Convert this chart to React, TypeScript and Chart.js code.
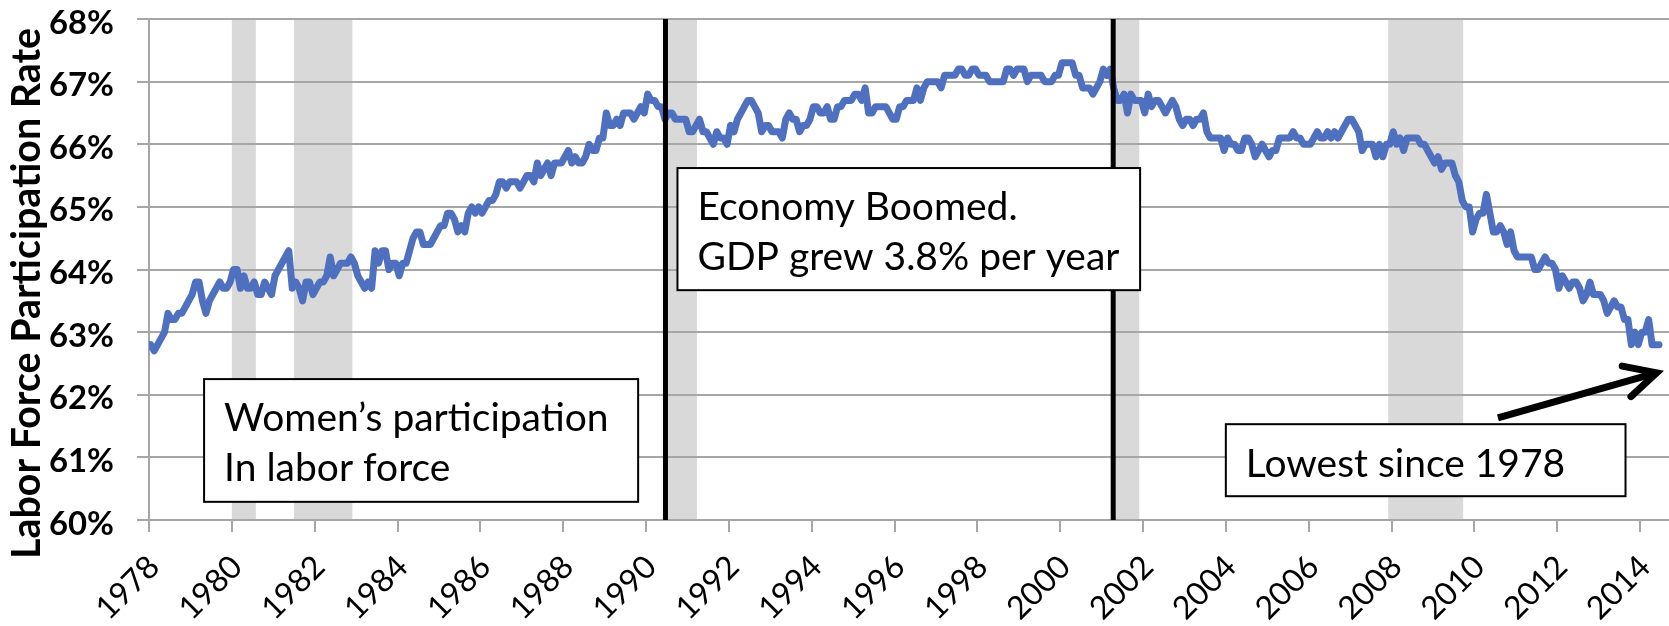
import React, { useEffect, useRef } from 'react';
import { Chart, registerables } from 'chart.js';

Chart.register(...registerables);

// ---------------- DATA ----------------
const START_YEAR = 1978;

// Civilian labor force participation rate (%), monthly
const rate1978to1989: number[] = [
  62.8, 62.7, 62.8, 62.9, 63.0, 63.3, 63.2, 63.2, 63.3, 63.3, 63.4, 63.5, // 1978
  63.6, 63.8, 63.8, 63.5, 63.3, 63.5, 63.6, 63.7, 63.8, 63.7, 63.7, 63.8, // 1979
  64.0, 64.0, 63.7, 63.9, 63.7, 63.7, 63.8, 63.6, 63.6, 63.8, 63.7, 63.6, // 1980
  63.9, 64.0, 64.1, 64.2, 64.3, 63.7, 63.8, 63.7, 63.5, 63.8, 63.8, 63.6, // 1981
  63.7, 63.8, 63.8, 63.9, 64.2, 63.9, 64.0, 64.1, 64.1, 64.1, 64.2, 64.1, // 1982
  63.9, 63.8, 63.7, 63.8, 63.7, 64.3, 64.1, 64.3, 64.3, 64.0, 64.1, 64.1, // 1983
  63.9, 64.1, 64.1, 64.3, 64.5, 64.6, 64.6, 64.4, 64.4, 64.4, 64.5, 64.6, // 1984
  64.7, 64.7, 64.9, 64.9, 64.8, 64.6, 64.7, 64.6, 64.9, 65.0, 64.9, 65.0, // 1985
  64.9, 65.0, 65.1, 65.1, 65.2, 65.4, 65.4, 65.3, 65.4, 65.4, 65.4, 65.3, // 1986
  65.4, 65.5, 65.5, 65.4, 65.7, 65.5, 65.6, 65.7, 65.5, 65.7, 65.7, 65.7, // 1987
  65.8, 65.9, 65.7, 65.8, 65.7, 65.7, 65.8, 66.0, 65.9, 65.9, 66.1, 66.1, // 1988
  66.5, 66.3, 66.3, 66.4, 66.3, 66.5, 66.5, 66.5, 66.4, 66.5, 66.6, 66.5, // 1989
];

const rate1990to1999: number[] = [
  66.8, 66.7, 66.7, 66.6, 66.6, 66.4, 66.5, 66.5, 66.4, 66.4, 66.4, 66.4, // 1990
  66.2, 66.2, 66.3, 66.4, 66.2, 66.2, 66.1, 66.0, 66.2, 66.1, 66.1, 66.0, // 1991
  66.3, 66.2, 66.4, 66.5, 66.6, 66.7, 66.7, 66.6, 66.5, 66.2, 66.3, 66.3, // 1992
  66.2, 66.2, 66.2, 66.1, 66.4, 66.5, 66.4, 66.4, 66.2, 66.3, 66.3, 66.4, // 1993
  66.6, 66.6, 66.5, 66.5, 66.6, 66.4, 66.4, 66.6, 66.6, 66.7, 66.7, 66.7, // 1994
  66.8, 66.8, 66.7, 66.9, 66.5, 66.5, 66.6, 66.6, 66.6, 66.6, 66.5, 66.4, // 1995
  66.4, 66.6, 66.6, 66.7, 66.7, 66.7, 66.9, 66.7, 66.9, 67.0, 67.0, 67.0, // 1996
  67.0, 66.9, 67.1, 67.1, 67.1, 67.1, 67.2, 67.2, 67.1, 67.1, 67.2, 67.2, // 1997
  67.1, 67.1, 67.1, 67.0, 67.0, 67.0, 67.0, 67.0, 67.2, 67.2, 67.1, 67.2, // 1998
  67.2, 67.2, 67.0, 67.1, 67.1, 67.1, 67.1, 67.0, 67.0, 67.0, 67.1, 67.1, // 1999
];

const rate2000to2014: number[] = [
  67.3, 67.3, 67.3, 67.3, 67.1, 67.1, 66.9, 66.9, 66.9, 66.8, 66.9, 67.0, // 2000
  67.2, 67.1, 67.2, 66.9, 66.7, 66.7, 66.8, 66.5, 66.8, 66.7, 66.7, 66.7, // 2001
  66.5, 66.8, 66.6, 66.7, 66.7, 66.6, 66.5, 66.6, 66.7, 66.6, 66.4, 66.3, // 2002
  66.4, 66.4, 66.3, 66.4, 66.4, 66.5, 66.2, 66.1, 66.1, 66.1, 66.1, 65.9, // 2003
  66.1, 66.0, 66.0, 65.9, 65.9, 66.1, 66.1, 66.0, 65.8, 65.9, 66.0, 65.9, // 2004
  65.8, 65.9, 65.9, 66.1, 66.1, 66.1, 66.1, 66.2, 66.1, 66.1, 66.0, 66.0, // 2005
  66.0, 66.1, 66.2, 66.1, 66.1, 66.2, 66.1, 66.2, 66.1, 66.2, 66.3, 66.4, // 2006
  66.4, 66.3, 66.2, 65.9, 66.0, 66.0, 66.0, 65.8, 66.0, 65.8, 66.0, 66.0, // 2007
  66.2, 66.0, 66.1, 65.9, 66.1, 66.1, 66.1, 66.1, 66.0, 66.0, 65.9, 65.8, // 2008
  65.7, 65.8, 65.6, 65.7, 65.7, 65.7, 65.5, 65.4, 65.1, 65.0, 65.0, 64.6, // 2009
  64.8, 64.9, 64.9, 65.2, 64.9, 64.6, 64.6, 64.7, 64.6, 64.4, 64.6, 64.3, // 2010
  64.2, 64.2, 64.2, 64.2, 64.2, 64.0, 64.0, 64.1, 64.2, 64.1, 64.1, 64.0, // 2011
  63.7, 63.9, 63.8, 63.7, 63.8, 63.8, 63.7, 63.5, 63.6, 63.8, 63.6, 63.6, // 2012
  63.6, 63.5, 63.3, 63.4, 63.5, 63.4, 63.4, 63.2, 63.2, 62.8, 63.0, 62.8, // 2013
  63.0, 63.0, 63.2, 62.8, 62.8, 62.8, // 2014
];

const xTickYears: number[] = [
  1978, 1980, 1982, 1984, 1986, 1988, 1990, 1992, 1994, 1996,
  1998, 2000, 2002, 2004, 2006, 2008, 2010, 2012, 2014,
];
const yTickValues: number[] = [60, 61, 62, 63, 64, 65, 66, 67, 68];

// Recession periods (shaded), in fractional years
const recessionStarts: number[] = [1980.0, 1981.5, 1990.47, 2001.28, 2007.92];
const recessionEnds: number[] = [1980.58, 1982.91, 1991.23, 2001.91, 2009.73];

// Vertical black marker lines
const markerYears: number[] = [1990.47, 2001.28];

const yAxisTitle = 'Labor Force Participation Rate';

const noteLines1: string[] = ['Women’s participation', 'In labor force'];
const noteLines2: string[] = ['Economy Boomed.', 'GDP grew 3.8% per year'];
const noteLines3: string[] = ['Lowest since 1978'];

// ---------------- LAYOUT / STYLE ----------------
const W = 1669;
const H = 626;
const FONT = "Lato, 'Open Sans', sans-serif";

const notes = [
  { lines: noteLines1, x0: 1979.33, x1: 1989.81, y0: 62.25, y1: 60.29 },
  { lines: noteLines2, x0: 1990.76, x1: 2001.93, y0: 65.62, y1: 63.67 },
  { lines: noteLines3, x0: 2004.0, x1: 2013.65, y0: 61.53, y1: 60.38 },
];
const arrowSpec = { fromX: 2010.57, fromY: 61.63, toX: 2014.4, toY: 62.35 };

function measure(text: string, weight: string, size: number): number {
  const c = document.createElement('canvas').getContext('2d')!;
  c.font = `${weight} ${size}px ${FONT}`;
  return c.measureText(text).width;
}

export default function App() {
  const ref = useRef<HTMLCanvasElement>(null);

  useEffect(() => {
    document.body.style.margin = '0';
    const canvas = ref.current!;

    const allRates = [...rate1978to1989, ...rate1990to1999, ...rate2000to2014];
    const points = allRates.map((v, i) => ({ x: START_YEAR + (i + 0.5) / 12, y: v }));

    const ySize = (100 * 65) / measure('68%', 'bold', 100);
    const xSize = 32;
    const titleSize = (100 * 531) / measure(yAxisTitle, 'bold', 100);
    const noteRef =
      measure('Women’s participation', 'normal', 100) +
      measure('Economy Boomed.', 'normal', 100) +
      measure('GDP grew 3.8% per year', 'normal', 100) +
      measure('Lowest since 1978', 'normal', 100);
    const noteSize = (100 * (393 + 322 + 417 + 314)) / noteRef;

    const overlay = {
      id: 'overlay',
      beforeDraw(chart: any) {
        const { ctx, chartArea, scales } = chart;
        const x = scales.x;
        ctx.save();
        ctx.fillStyle = '#d9d9d9';
        recessionStarts.forEach((s, i) => {
          const a = x.getPixelForValue(s);
          const b = x.getPixelForValue(recessionEnds[i]);
          ctx.fillRect(a, chartArea.top, b - a, chartArea.bottom - chartArea.top);
        });
        ctx.restore();
      },
      afterDatasetsDraw(chart: any) {
        const { ctx, chartArea, scales } = chart;
        const x = scales.x;
        const y = scales.y;
        ctx.save();
        // marker lines
        ctx.strokeStyle = '#000';
        ctx.lineWidth = 5;
        markerYears.forEach((m) => {
          const px = x.getPixelForValue(m);
          ctx.beginPath();
          ctx.moveTo(px, chartArea.top);
          ctx.lineTo(px, chartArea.bottom);
          ctx.stroke();
        });
        // note boxes
        notes.forEach((n) => {
          const left = x.getPixelForValue(n.x0);
          const right = x.getPixelForValue(n.x1);
          const top = y.getPixelForValue(n.y0);
          const bottom = y.getPixelForValue(n.y1);
          ctx.fillStyle = '#fff';
          ctx.fillRect(left, top, right - left, bottom - top);
          ctx.strokeStyle = '#000';
          ctx.lineWidth = 2;
          ctx.strokeRect(left, top, right - left, bottom - top);
          ctx.fillStyle = '#000';
          ctx.font = `normal ${noteSize}px ${FONT}`;
          ctx.textAlign = 'left';
          ctx.textBaseline = 'alphabetic';
          n.lines.forEach((line, i) => {
            ctx.fillText(line, left + 20, top + 52.4 + i * 49.5);
          });
        });
        // arrow
        const ax0 = x.getPixelForValue(arrowSpec.fromX);
        const ay0 = y.getPixelForValue(arrowSpec.fromY);
        const ax1 = x.getPixelForValue(arrowSpec.toX);
        const ay1 = y.getPixelForValue(arrowSpec.toY);
        const ang = Math.atan2(ay1 - ay0, ax1 - ax0);
        const headLen = 35;
        const spread = (27 * Math.PI) / 180;
        ctx.strokeStyle = '#000';
        ctx.lineWidth = 7;
        ctx.lineCap = 'butt';
        ctx.beginPath();
        ctx.moveTo(ax0, ay0);
        ctx.lineTo(ax1 - 3 * Math.cos(ang), ay1 - 3 * Math.sin(ang));
        ctx.stroke();
        ctx.lineCap = 'round';
        ctx.lineJoin = 'miter';
        ctx.beginPath();
        ctx.moveTo(ax1 - headLen * Math.cos(ang - spread), ay1 - headLen * Math.sin(ang - spread));
        ctx.lineTo(ax1, ay1);
        ctx.lineTo(ax1 - headLen * Math.cos(ang + spread), ay1 - headLen * Math.sin(ang + spread));
        ctx.stroke();
        // y-axis title
        const cy = (chartArea.top + chartArea.bottom) / 2 + 24;
        ctx.translate(40, cy);
        ctx.rotate(-Math.PI / 2);
        ctx.fillStyle = '#000';
        ctx.font = `bold ${titleSize}px ${FONT}`;
        ctx.textAlign = 'center';
        ctx.textBaseline = 'alphabetic';
        ctx.fillText(yAxisTitle, 0, 0);
        ctx.restore();
      },
    };

    const gridColor = '#a6a6a6';

    const chart = new Chart(canvas, {
      type: 'line',
      data: {
        datasets: [
          {
            label: 'Labor Force Participation Rate',
            data: points,
            borderColor: '#4f6fbf',
            borderWidth: 7,
            pointRadius: 0,
            tension: 0,
            borderJoinStyle: 'round',
            borderCapStyle: 'round',
            fill: false,
          },
        ],
      },
      options: {
        responsive: false,
        devicePixelRatio: 1,
        animation: false,
        events: [],
        layout: { padding: { top: 19, left: 0, right: 0, bottom: 0 } },
        plugins: {
          legend: { display: false },
          tooltip: { enabled: false },
        },
        scales: {
          x: {
            type: 'linear',
            min: 1978,
            max: 2014.7,
            afterBuildTicks: (s: any) => {
              s.ticks = xTickYears.map((v) => ({ value: v }));
            },
            afterFit: (s: any) => {
              s.height = H - 520;
              s.paddingLeft = 0;
              s.paddingRight = 0;
            },
            grid: {
              drawOnChartArea: false,
              drawTicks: true,
              tickLength: 12,
              color: gridColor,
              lineWidth: 2,
            },
            border: { display: true, color: gridColor, width: 2 },
            ticks: {
              autoSkip: false,
              minRotation: 45,
              maxRotation: 45,
              padding: 16,
              labelOffset: 5,
              color: '#000',
              font: { family: FONT, size: xSize, weight: 'normal' },
              callback: (v: any) => String(v),
            },
          },
          y: {
            type: 'linear',
            min: 60,
            max: 68,
            afterBuildTicks: (s: any) => {
              s.ticks = yTickValues.map((v) => ({ value: v }));
            },
            afterFit: (s: any) => {
              s.width = 149;
              s.paddingTop = 0;
              s.paddingBottom = 0;
            },
            grid: {
              drawOnChartArea: true,
              drawTicks: true,
              tickLength: 12,
              color: gridColor,
              lineWidth: 2,
            },
            border: { display: true, color: gridColor, width: 2 },
            ticks: {
              padding: 23,
              labelOffset: 4,
              color: '#000',
              font: { family: FONT, size: ySize, weight: 'bold' },
              callback: (v: any) => `${v}%`,
            },
          },
        },
      },
      plugins: [overlay],
    } as any);

    return () => chart.destroy();
  }, []);

  return (
    <canvas
      ref={ref}
      width={W}
      height={H}
      style={{ display: 'block', width: `${W}px`, height: `${H}px` }}
    />
  );
}
